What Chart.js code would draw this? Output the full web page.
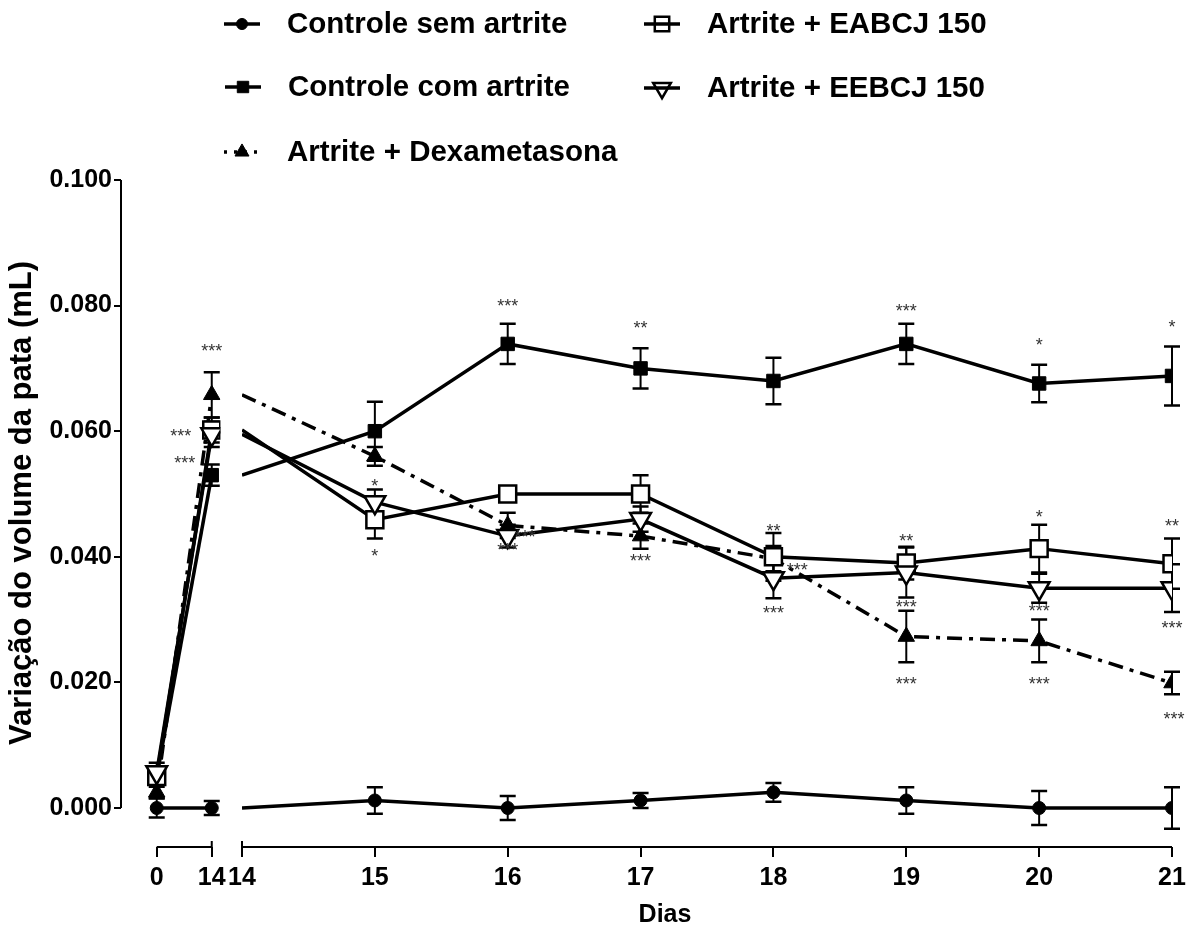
<!DOCTYPE html>
<html>
<head>
<meta charset="utf-8">
<script src="https://cdn.jsdelivr.net/npm/chart.js@4.4.1/dist/chart.umd.min.js"></script>
<style>
  html, body { margin: 0; padding: 0; background: #fff; }
  #wrap { position: relative; width: 1195px; height: 937px; }
  #wrap canvas { position: absolute; top: 0; left: 0; }
</style>
</head>
<body>
<div id="wrap">
  <canvas id="mainChart" width="1195" height="937"></canvas>
  <canvas id="startChart" width="232" height="937"></canvas>
</div>
<script>
// ---- data ----
const days = [0, 14, 15, 16, 17, 18, 19, 20, 21];
const yTicks = [0, 0.02, 0.04, 0.06, 0.08, 0.1];

const semArtrite    = [0, 0, 0.0012, 0, 0.0012, 0.0025, 0.0012, 0, 0];
const semArtriteErr = [0.0015, 0.0011, 0.0021, 0.0019, 0.0012, 0.0015, 0.0021, 0.0027, 0.0033];

const comArtrite    = [0.0050, 0.0530, 0.0600, 0.0739, 0.0700, 0.0680, 0.0739, 0.0676, 0.0688];
const comArtriteErr = [0.0010, 0.0017, 0.0047, 0.0032, 0.0032, 0.0037, 0.0032, 0.0030, 0.0047];

const dexametasona    = [0.0025, 0.0658, 0.0560, 0.0450, 0.0433, 0.0397, 0.0273, 0.0266, 0.0199];
const dexametasonaErr = [0.0009, 0.0036, 0.0015, 0.0020, 0.0020, 0.0020, 0.0041, 0.0034, 0.0018];

const eabcj150    = [0.0050, 0.0602, 0.0459, 0.0500, 0.0500, 0.0400, 0.0390, 0.0413, 0.0389];
const eabcj150Err = [0.0010, 0.0020, 0.0030, 0.0010, 0.0030, 0.0038, 0.0026, 0.0038, 0.0040];

const eebcj150    = [0.0057, 0.0595, 0.0487, 0.0433, 0.0460, 0.0366, 0.0375, 0.0350, 0.0350];
const eebcj150Err = [0.0015, 0.0020, 0.0020, 0.0018, 0.0020, 0.0032, 0.0040, 0.0023, 0.0038];

// significance marks: [day, value, text]
const sigStart = [[14, 0.0734, '***'], [6.14, 0.0599, '***'], [7.12, 0.0556, '***']];
const sigMain = [
  [15, 0.0519, '*'], [15, 0.0408, '*'],
  [16, 0.0806, '***'], [16.13, 0.0438, '***'], [16, 0.0417, '***'],
  [17, 0.0771, '**'], [17, 0.0400, '***'],
  [18, 0.0447, '**'], [18, 0.0317, '***'], [18.18, 0.0385, '***'],
  [19, 0.0798, '***'], [19, 0.0432, '**'], [19, 0.0326, '***'], [19, 0.0204, '***'],
  [20, 0.0744, '*'], [20, 0.0470, '*'], [20, 0.0320, '***'], [20, 0.0204, '***'],
  [21, 0.0772, '*'], [21, 0.0455, '**'], [21, 0.0293, '***'], [21.015, 0.0148, '***']
];

// ---- series styles ----
const series = [
  { label: 'Controle sem artrite', mean: semArtrite, err: semArtriteErr,
    pointStyle: 'circle', radius: 6.5, rotation: 0, fill: '#000', pbw: 1, dash: [] },
  { label: 'Controle com artrite', mean: comArtrite, err: comArtriteErr,
    pointStyle: 'rect', radius: 9.5, rotation: 0, fill: '#000', pbw: 1, dash: [] },
  { label: 'Artrite + Dexametasona', mean: dexametasona, err: dexametasonaErr,
    pointStyle: 'triangle', radius: 9.5, rotation: 0, fill: '#000', pbw: 1, dash: [15, 7, 4, 7] },
  { label: 'Artrite + EABCJ 150', mean: eabcj150, err: eabcj150Err,
    pointStyle: 'rect', radius: 12, rotation: 0, fill: '#fff', pbw: 2.5, dash: [] },
  { label: 'Artrite + EEBCJ 150', mean: eebcj150, err: eebcj150Err,
    pointStyle: 'triangle', radius: 12, rotation: 180, fill: '#fff', pbw: 2.5, dash: [] }
];

// ---- frame (pixel layout of the broken axis) ----
const FONT = "'Liberation Sans', Arial, sans-serif";
const frame = { top: 180, axisY: 847, bottomH: 90, yAxisX: 121, startCanvasW: 232, startPad: 4,
                startEdge: 224, seg1: [158, 215], seg2: [242, 1172] };
const yMax = 0.1;
const pxPerUnit = (808 - frame.top) / yMax;
const yMin = -(frame.axisY - 808) / pxPerUnit;
const pxPerDay1 = (frame.seg1[1] - frame.seg1[0]) / 14;
const startMin = -(frame.seg1[0] - frame.yAxisX) / pxPerDay1;
const startMax = 14 + (frame.startEdge - frame.seg1[1]) / pxPerDay1;

Chart.defaults.font.family = FONT;
Chart.defaults.font.weight = 'bold';
Chart.defaults.color = '#000';

function buildDatasets(from, to, hideFirst) {
  return series.map(s => ({
    label: s.label,
    data: days.slice(from, to).map((d, i) => ({ x: d, y: s.mean[from + i] })),
    errors: s.err.slice(from, to).map((e, i) => (hideFirst && i === 0 ? null : e)),
    borderColor: '#000',
    borderWidth: 3.5,
    borderDash: s.dash,
    tension: 0,
    fill: false,
    pointStyle: s.pointStyle,
    rotation: s.rotation,
    pointRadius: c => (hideFirst && c.dataIndex === 0 ? 0 : s.radius),
    pointBackgroundColor: s.fill,
    pointBorderColor: '#000',
    pointBorderWidth: s.pbw,
    pointHoverRadius: 0
  })).reverse();
}

// vertical error bars with caps
const errorBars = {
  id: 'errorBars',
  beforeDatasetsDraw(chart) {
    const { ctx, scales: { x, y } } = chart;
    ctx.save();
    ctx.strokeStyle = '#000';
    chart.data.datasets.forEach(ds => {
      ds.data.forEach((p, i) => {
        const e = ds.errors[i];
        if (e == null) return;
        const px = x.getPixelForValue(p.x);
        const t = y.getPixelForValue(p.y + e);
        const b = y.getPixelForValue(p.y - e);
        ctx.lineWidth = 2;
        ctx.beginPath(); ctx.moveTo(px, t); ctx.lineTo(px, b); ctx.stroke();
        ctx.lineWidth = 2.5;
        ctx.beginPath();
        ctx.moveTo(px - 8, t); ctx.lineTo(px + 8, t);
        ctx.moveTo(px - 8, b); ctx.lineTo(px + 8, b);
        ctx.stroke();
      });
    });
    ctx.restore();
  }
};

// asterisks
const sigMarks = {
  id: 'sigMarks',
  afterDatasetsDraw(chart, args, opts) {
    const { ctx, scales: { x, y } } = chart;
    ctx.save();
    ctx.font = 'normal 18px ' + FONT;
    ctx.fillStyle = '#333';
    ctx.textAlign = 'center';
    ctx.textBaseline = 'alphabetic';
    opts.marks.forEach(([d, v, t]) => {
      ctx.fillText(t, x.getPixelForValue(d), y.getPixelForValue(v) + 10);
    });
    ctx.restore();
  }
};

// axis lines drawn over the value range only, plus the y title
const axisLines = {
  id: 'axisLines',
  afterDraw(chart, args, opts) {
    const { ctx, chartArea, scales: { x, y } } = chart;
    ctx.save();
    ctx.strokeStyle = '#000';
    ctx.lineWidth = 2;
    ctx.beginPath();
    if (opts.yLine) {
      ctx.moveTo(chartArea.left, y.getPixelForValue(yMax));
      ctx.lineTo(chartArea.left, y.getPixelForValue(0));
    }
    const x0 = x.getPixelForValue(opts.from), x1 = x.getPixelForValue(opts.to);
    ctx.moveTo(x0, chartArea.bottom); ctx.lineTo(x1, chartArea.bottom);
    const bx = x.getPixelForValue(opts.breakAt);
    ctx.moveTo(bx, chartArea.bottom - 6); ctx.lineTo(bx, chartArea.bottom);
    ctx.stroke();
    if (opts.yTitle) {
      ctx.translate(22, 503);
      ctx.rotate(-Math.PI / 2);
      ctx.font = 'bold 31px ' + FONT;
      ctx.fillStyle = '#000';
      ctx.textAlign = 'center';
      ctx.textBaseline = 'middle';
      ctx.fillText(opts.yTitle, 0, 0);
    }
    ctx.restore();
  }
};

// legend and x axis title
const legendBlock = {
  id: 'legendBlock',
  afterDraw(chart) {
    const { ctx } = chart;
    const spots = [[242, 24], [243, 87], [242, 152], [662, 24], [662, 88]];
    ctx.save();
    series.forEach((s, i) => {
      const [cx, cy] = spots[i];
      ctx.strokeStyle = '#000';
      ctx.setLineDash([]);
      ctx.fillStyle = s.fill;
      ctx.lineWidth = s.pbw;
      Chart.helpers.drawPoint(ctx, { pointStyle: s.pointStyle, rotation: s.rotation,
        radius: s.radius * 0.85, borderWidth: s.pbw }, cx, cy);
      ctx.lineWidth = 3.5;
      ctx.setLineDash(s.dash.length ? [3, 7] : []);
      ctx.beginPath(); ctx.moveTo(cx - 18, cy); ctx.lineTo(cx + 18, cy); ctx.stroke();
      ctx.setLineDash([]);
      ctx.fillStyle = '#000';
      ctx.font = 'bold 29.5px ' + FONT;
      ctx.textAlign = 'left';
      ctx.textBaseline = 'middle';
      ctx.fillText(s.label, cx + 45, cy + 1);
    });
    ctx.font = 'bold 25px ' + FONT;
    ctx.textAlign = 'center';
    ctx.textBaseline = 'middle';
    ctx.fillText('Dias', (frame.seg1[0] + frame.seg2[1]) / 2, 915);
    ctx.restore();
  }
};

const tickFont = { size: 25, weight: 'bold' };
const xGrid = { drawOnChartArea: false, drawTicks: true, tickLength: 10, color: '#000', lineWidth: 2 };

// days 14 to 21
new Chart(document.getElementById('mainChart'), {
  type: 'line',
  data: { datasets: buildDatasets(1, 9, true) },
  options: {
    responsive: false,
    animation: false,
    events: [],
    layout: { autoPadding: false,
              padding: { top: frame.top, left: frame.seg2[0], right: 1195 - frame.seg2[1], bottom: 0 } },
    plugins: {
      legend: { display: false },
      tooltip: { enabled: false },
      sigMarks: { marks: sigMain },
      axisLines: { yLine: false, from: 14, to: 21, breakAt: 14 }
    },
    scales: {
      x: {
        type: 'linear', min: 14, max: 21,
        ticks: { stepSize: 1, autoSkip: false, maxRotation: 0, font: tickFont, color: '#000', padding: 6 },
        grid: xGrid,
        border: { display: false },
        afterFit: s => { s.height = frame.bottomH; }
      },
      y: { display: false, min: yMin, max: yMax }
    }
  },
  plugins: [errorBars, sigMarks, axisLines, legendBlock]
});

// days 0 to 14, with the value axis
new Chart(document.getElementById('startChart'), {
  type: 'line',
  data: { datasets: buildDatasets(0, 2, false) },
  options: {
    responsive: false,
    animation: false,
    events: [],
    layout: { autoPadding: false,
              padding: { top: frame.top, left: 0, right: frame.startPad, bottom: 0 } },
    plugins: {
      legend: { display: false },
      tooltip: { enabled: false },
      sigMarks: { marks: sigStart },
      axisLines: { yLine: true, from: 0, to: 14, breakAt: 14,
                   yTitle: 'Variação do volume da pata (mL)' }
    },
    scales: {
      x: {
        type: 'linear', min: startMin, max: startMax,
        afterBuildTicks: s => { s.ticks = [0, 14].map(v => ({ value: v })); },
        ticks: { autoSkip: false, maxRotation: 0, font: tickFont, color: '#000', padding: 6 },
        grid: xGrid,
        border: { display: false },
        afterFit: s => { s.height = frame.bottomH; }
      },
      y: {
        min: yMin, max: yMax,
        afterBuildTicks: s => { s.ticks = yTicks.map(v => ({ value: v })); },
        ticks: { font: tickFont, color: '#000', padding: 2, callback: v => v.toFixed(3) },
        grid: { drawOnChartArea: false, drawTicks: true, tickLength: 7, color: '#000', lineWidth: 2 },
        border: { display: false },
        afterFit: s => { s.width = frame.yAxisX; }
      }
    }
  },
  plugins: [errorBars, sigMarks, axisLines]
});
</script>
</body>
</html>
